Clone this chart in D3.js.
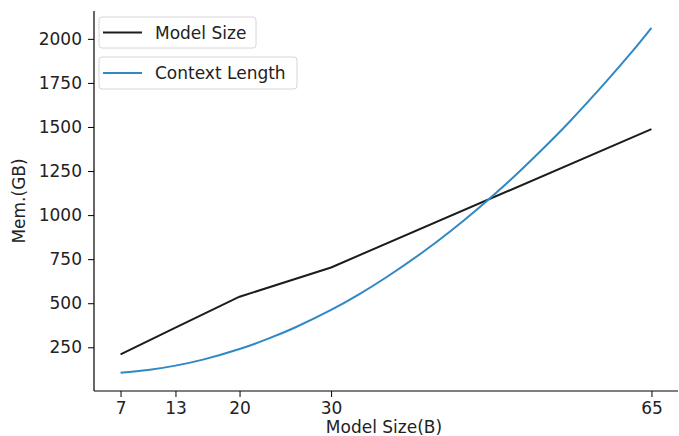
<!DOCTYPE html>
<html>
<head>
<meta charset="utf-8">
<script src="https://cdn.jsdelivr.net/npm/d3@7/dist/d3.min.js"></script>
<style>
  html, body { margin: 0; padding: 0; background: #fff; }
  svg { display: block; font-family: "DejaVu Sans", sans-serif; }
</style>
</head>
<body>
<svg id="chart" width="679" height="436"></svg>
<script>
// ---- Data ----
const modelSizes = [7, 13, 20, 30, 65];
const modelSizeMem = [210, 361, 537, 703, 1488];

const contextX = [7, 10, 13, 16, 20, 23, 26, 30, 33, 36, 40, 43, 46, 50, 53, 56, 60, 63, 65];
const contextMem = [106, 121, 146, 180, 240, 296, 361, 462, 549, 646, 789, 907, 1035, 1219, 1369, 1527, 1754, 1934, 2062];

const xTicks = [7, 13, 20, 30, 65];
const yTicks = [250, 500, 750, 1000, 1250, 1500, 1750, 2000];

const seriesNames = ["Model Size", "Context Length"];
const seriesColors = ["#1c1c1c", "#3088c4"];

// ---- Layout ----
const svg = d3.select("#chart");
const mLeft = 94, mRight = 678, mTop = 11, mBottom = 391;
const fontSize = 17;

const x = d3.scaleLinear().domain([4.1, 67.9]).range([mLeft, mRight]);
const y = d3.scaleLinear().domain([2, 2158]).range([mBottom, mTop]);

// Axes
const xAxis = d3.axisBottom(x).tickValues(xTicks).tickFormat(d3.format("d"))
  .tickSize(6).tickPadding(5).tickSizeOuter(0);
const yAxis = d3.axisLeft(y).tickValues(yTicks).tickFormat(d3.format("d"))
  .tickSize(6).tickPadding(6).tickSizeOuter(0);

const gx = svg.append("g").attr("transform", `translate(0,${mBottom})`).call(xAxis);
const gy = svg.append("g").attr("transform", `translate(${mLeft},0)`).call(yAxis);

[gx, gy].forEach(g => {
  g.select(".domain").attr("stroke", "#000").attr("stroke-width", 1.2);
  g.selectAll(".tick line").attr("stroke", "#000").attr("stroke-width", 1);
  g.selectAll(".tick text").attr("fill", "#222").attr("font-size", fontSize)
    .attr("font-family", "DejaVu Sans, sans-serif");
});
gy.select(".domain").attr("d", `M0,${mBottom}V${mTop}`);
gx.select(".domain").attr("d", `M${mLeft},0H${mRight}`);

// Axis labels
svg.append("text")
  .attr("x", (mLeft + mRight) / 2 - 2)
  .attr("y", 433)
  .attr("text-anchor", "middle")
  .attr("font-size", fontSize)
  .attr("fill", "#222")
  .text("Model Size(B)");

svg.append("text")
  .attr("transform", `translate(25,${(mTop + mBottom) / 2}) rotate(-90)`)
  .attr("text-anchor", "middle")
  .attr("font-size", fontSize)
  .attr("fill", "#222")
  .text("Mem.(GB)");

// Lines
const line = d3.line().x(d => x(d[0])).y(d => y(d[1]));
const smooth = d3.line().x(d => x(d[0])).y(d => y(d[1])).curve(d3.curveCatmullRom);

svg.append("path")
  .datum(modelSizes.map((v, i) => [v, modelSizeMem[i]]))
  .attr("fill", "none")
  .attr("stroke", seriesColors[0])
  .attr("stroke-width", 2)
  .attr("d", line);

svg.append("path")
  .datum(contextX.map((v, i) => [v, contextMem[i]]))
  .attr("fill", "none")
  .attr("stroke", seriesColors[1])
  .attr("stroke-width", 2)
  .attr("d", smooth);

// Legends (two separate boxes)
const legendBoxes = [
  { x: 99, y: 17, w: 157, h: 31 },
  { x: 99, y: 57, w: 198, h: 32 }
];
seriesNames.forEach((name, i) => {
  const b = legendBoxes[i];
  const g = svg.append("g");
  g.append("rect")
    .attr("x", b.x).attr("y", b.y).attr("width", b.w).attr("height", b.h)
    .attr("rx", 3).attr("ry", 3)
    .attr("fill", "#fff").attr("fill-opacity", 0.8)
    .attr("stroke", "#d6d6d6").attr("stroke-width", 1);
  const cy = b.y + b.h / 2;
  g.append("line")
    .attr("x1", 103).attr("x2", 142).attr("y1", cy).attr("y2", cy)
    .attr("stroke", seriesColors[i]).attr("stroke-width", 2);
  g.append("text")
    .attr("x", 155).attr("y", cy).attr("dy", "0.36em")
    .attr("font-size", fontSize)
    .attr("fill", "#222")
    .text(name);
});
</script>
</body>
</html>
